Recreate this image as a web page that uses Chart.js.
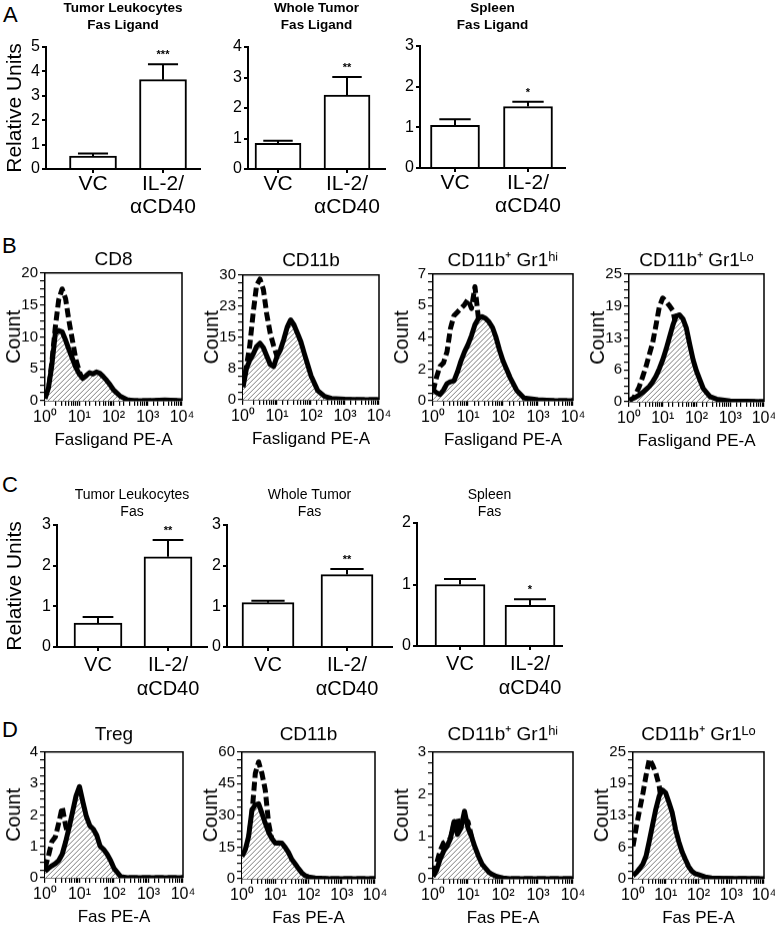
<!DOCTYPE html>
<html>
<head>
<meta charset="utf-8">
<script src="https://cdn.jsdelivr.net/npm/chart.js@4.4.1/dist/chart.umd.min.js"></script>
<style>
html, body { margin: 0; padding: 0; background: #fff; overflow: hidden; }
#fig { position: relative; width: 775px; height: 931px; }
#fig canvas { position: absolute; }
.panel { position: absolute; font: 22px 'Liberation Sans', Arial, sans-serif; line-height: 22px; color: #000; }
</style>
</head>
<body>
<div id="fig">
  <div class="panel" style="left:3px;top:4px">A</div>
  <div class="panel" style="left:2px;top:235px">B</div>
  <div class="panel" style="left:2px;top:474px">C</div>
  <div class="panel" style="left:2px;top:719px">D</div>
</div>
<script>
// ---- data ----
var groups = ['VC', ['IL-2/', 'αCD40']];

// A: Fas ligand, relative units (mean, SEM, significance)
var flTumorLeuk = [0.53, 3.66], flTumorLeukSem = [0.11, 0.63], flTumorLeukSig = ['', '***'];
var flWholeTumor = [0.84, 2.42], flWholeTumorSem = [0.09, 0.60], flWholeTumorSig = ['', '**'];
var flSpleen = [1.05, 1.51], flSpleenSem = [0.15, 0.12], flSpleenSig = ['', '*'];

// C: Fas, relative units
var fasTumorLeuk = [0.59, 2.22], fasTumorLeukSem = [0.15, 0.41], fasTumorLeukSig = ['', '**'];
var fasWholeTumor = [1.09, 1.78], fasWholeTumorSem = [0.05, 0.14], fasWholeTumorSig = ['', '**'];
var fasSpleen = [1.0, 0.66], fasSpleenSem = [0.09, 0.10], fasSpleenSig = ['', '*'];

// flow histograms: fluorescence channel (PE-A) and counts
var bins = [1, 1.26, 1.58, 2, 2.51, 3.16, 3.98, 5.01, 6.31, 7.94, 10, 12.6, 15.8, 20, 25.1, 31.6,
            39.8, 50.1, 63.1, 79.4, 100, 158, 251, 398, 1000, 3162, 10000];

var cd8Solid   = [0.3, 2, 5.5, 10.5, 11, 10.8, 9.5, 8, 6.6, 5.2, 4.2, 3.5, 3.9, 4.4, 4.2, 4.5, 4.3, 3.8, 3.2, 2.5, 1.7, 0.7, 0.15, 0, 0, 0.1, 0];
var cd8Dashed  = [0.5, 1.5, 6, 11.5, 15.8, 17.5, 16, 12.5, 9.5, 6.5, 4.6, 3.2, 2, 1.2, 0.7, 0.4, 0.15, 0.05, 0, 0, 0, 0, 0, 0, 0, 0, 0];
var cd11bSolid = [3, 7.5, 9.5, 11, 12.8, 13.6, 12.5, 10.5, 8.5, 8, 10.4, 12, 14.5, 17.5, 19.2, 18, 16, 14, 11.2, 8.5, 5.8, 2.2, 0.8, 0.3, 0.1, 0, 0];
var cd11bDashed= [3, 8, 13, 21, 27.5, 29, 26.5, 20.5, 16, 13, 10.5, 9, 10, 11.5, 11, 6.5, 2, 0.5, 0, 0, 0, 0, 0, 0, 0, 0, 0];
var gr1hiSolid = [0.6, 0.45, 0.35, 0.6, 0.95, 1.05, 1.1, 1.6, 2.2, 2.7, 3.1, 3.6, 4.2, 4.55, 4.65, 4.55, 4.35, 4.05, 3.5, 2.8, 2.2, 1.3, 0.55, 0.15, 0.05, 0, 0];
var gr1hiDashed= [0.5, 1.3, 1.9, 2.1, 2.7, 4.0, 4.7, 4.9, 5.1, 5.3, 5.6, 5.1, 6.3, 4.5, 2.6, 1.5, 0.5, 0.15, 0, 0, 0, 0, 0, 0, 0, 0, 0];
var gr1loSolid = [0.3, 0.6, 0.9, 1.3, 1.8, 2.4, 3.0, 3.9, 5.0, 6.5, 8.2, 10.3, 12.6, 15, 16.8, 17, 16.2, 14.4, 11.2, 8.2, 6, 2.6, 1.0, 0.5, 0.15, 0.1, 0];
var gr1loDashed= [0.1, 0.3, 1.5, 2.9, 4.8, 6.8, 9.2, 11.5, 15, 18.6, 20.3, 19.6, 18.8, 17.8, 14.6, 11, 7, 3, 0.6, 0.1, 0, 0, 0, 0, 0, 0, 0];

var tregSolid  = [0.2, 0.3, 0.38, 0.45, 0.55, 0.75, 1.15, 1.6, 2.1, 2.6, 2.9, 2.4, 1.95, 1.65, 1.55, 1.35, 1.0, 0.9, 0.75, 0.55, 0.3, 0.03, 0, 0, 0, 0, 0];
var tregDashed = [0.3, 0.7, 1.15, 1.3, 1.75, 2.25, 1.65, 1.25, 0.85, 0.55, 0.25, 0.06, 0, 0, 0, 0, 0, 0, 0, 0, 0, 0, 0, 0, 0, 0, 0];
var fCd11bSolid  = [10.6, 13.8, 20, 32.6, 35, 35.5, 31, 26.3, 22, 19, 16.9, 17, 16.9, 14.8, 12.4, 9.1, 7, 4.8, 2.8, 1.5, 0.9, 0.4, 0.2, 0.1, 0.05, 0, 0];
var fCd11bDashed = [5, 11, 18.5, 31, 49.8, 55.3, 49.8, 42, 26.3, 18.5, 10.7, 4.4, 1.3, 0.3, 0, 0, 0, 0, 0, 0, 0, 0, 0, 0, 0, 0, 0];
var fGr1hiSolid  = [0.05, 0.2, 0.45, 0.65, 0.77, 0.95, 1.35, 1.05, 1.2, 1.6, 1.2, 1.0, 0.75, 0.53, 0.35, 0.25, 0.15, 0.1, 0.06, 0.04, 0.02, 0, 0, 0, 0, 0, 0];
var fGr1hiDashed = [0.1, 0.35, 0.65, 0.85, 0.9, 0.95, 1.3, 1.45, 1.05, 1.3, 1.35, 1.0, 0.6, 0.3, 0.05, 0, 0, 0, 0, 0, 0, 0, 0, 0, 0, 0, 0];
var fGr1loSolid  = [0.6, 1.2, 2.0, 2.9, 4.5, 7.5, 10.7, 13.8, 16.3, 17.5, 16.9, 15, 13, 9.7, 7.3, 5.3, 3.8, 2.4, 1.5, 1.0, 0.8, 0.35, 0.15, 0.1, 0.05, 0.05, 0];
var fGr1loDashed = [6.4, 10.2, 13.5, 16.8, 20.4, 23.6, 22.4, 20.8, 18.3, 13.5, 8, 4.2, 1.0, 0.1, 0, 0, 0, 0, 0, 0, 0, 0, 0, 0, 0, 0, 0];

var decadeLabels = ['10\u2070', '10\u00B9', '10\u00B2', '10\u00B3', '10\u2074'];

// ---- helpers ----
var SANS = "'Liberation Sans', Arial, sans-serif";
var fig = document.getElementById('fig');

function makeCanvas(left, top, w, h) {
  var c = document.createElement('canvas');
  c.width = w; c.height = h;
  c.style.left = left + 'px'; c.style.top = top + 'px';
  c.style.width = w + 'px'; c.style.height = h + 'px';
  fig.appendChild(c);
  return c;
}

function makeHatch() {
  var t = document.createElement('canvas');
  t.width = 5; t.height = 5;
  var g = t.getContext('2d');
  g.fillStyle = '#fff'; g.fillRect(0, 0, 5, 5);
  g.strokeStyle = '#808080'; g.lineWidth = 1;
  g.beginPath();
  g.moveTo(0, 5); g.lineTo(5, 0);
  g.moveTo(-1, 1); g.lineTo(1, -1);
  g.moveTo(4, 6); g.lineTo(6, 4);
  g.stroke();
  return document.createElement('canvas').getContext('2d').createPattern(t, 'repeat');
}
var hatch = makeHatch();

var errorBars = {
  id: 'errorBars',
  afterDatasetsDraw: function(chart, args, opts) {
    if (!opts.sem) return;
    var ctx = chart.ctx, y = chart.scales.y;
    var vals = chart.data.datasets[0].data;
    ctx.save();
    ctx.strokeStyle = '#000'; ctx.lineWidth = 2;
    chart.getDatasetMeta(0).data.forEach(function(bar, i) {
      var yTop = y.getPixelForValue(vals[i].y + opts.sem[i]);
      var half = bar.width * 0.32;
      ctx.beginPath();
      ctx.moveTo(bar.x, bar.y); ctx.lineTo(bar.x, yTop);
      ctx.moveTo(bar.x - half, yTop); ctx.lineTo(bar.x + half, yTop);
      ctx.stroke();
      if (opts.sig[i]) {
        ctx.fillStyle = '#000';
        ctx.font = 'bold 11px ' + SANS;
        ctx.textAlign = 'center'; ctx.textBaseline = 'alphabetic';
        ctx.fillText(opts.sig[i], bar.x, yTop - 6);
      }
    });
    ctx.restore();
  }
};

var frame = {
  id: 'frame',
  afterDraw: function(chart, args, opts) {
    if (!opts.on) return;
    var a = chart.chartArea, ctx = chart.ctx;
    ctx.save();
    ctx.strokeStyle = '#000'; ctx.lineWidth = 1.5;
    ctx.beginPath();
    ctx.moveTo(a.left, a.top); ctx.lineTo(a.right, a.top); ctx.lineTo(a.right, a.bottom);
    ctx.stroke();
    ctx.restore();
  }
};
Chart.register(errorBars, frame);

function barChart(o) {
  var wy = o.yTitle ? o.left : 32;
  var left = o.left - wy;
  var lh = o.titleSize * o.titleLH;
  var top = o.titleTop;
  var gap = o.top - top - 2 * lh;
  var hx = 62;
  var w = o.right - left + 6, h = o.bottom - top + hx;
  var unit = o.c1 - o.c0;
  var cv = makeCanvas(left, top, w, h);
  new Chart(cv, {
    type: 'bar',
    data: {
      datasets: [{
        data: o.vals.map(function(v, i) { return { x: i, y: v }; }),
        backgroundColor: '#fff', borderColor: '#000', borderWidth: 2,
        barThickness: o.barW
      }]
    },
    options: {
      responsive: false, animation: false, events: [],
      layout: { padding: { left: 0, right: 6, top: 0, bottom: 0 } },
      plugins: {
        legend: { display: false }, tooltip: { enabled: false },
        title: {
          display: true, text: o.title, fullSize: false, color: '#000',
          font: { family: SANS, size: o.titleSize, weight: o.titleWeight, lineHeight: o.titleLH },
          padding: { top: 0, bottom: gap }
        },
        errorBars: { sem: o.sem, sig: o.sig }
      },
      scales: {
        x: {
          type: 'linear', offset: false,
          min: -(o.c0 - o.left) / unit, max: 1 + (o.right - o.c1) / unit,
          afterBuildTicks: function(s) { s.ticks = groups.map(function(g, i) { return { value: i }; }); },
          afterFit: function(s) { s.height = hx; },
          ticks: {
            autoSkip: false, maxRotation: 0, padding: o.catPad, color: '#000',
            font: { family: SANS, size: o.catSize, lineHeight: o.catLH },
            callback: function(v) { return groups[v]; }
          },
          grid: { offset: false, drawOnChartArea: false, tickLength: 4, color: '#000', lineWidth: 2 },
          border: { color: '#000', width: 2 }
        },
        y: {
          min: 0, max: o.yMax,
          afterFit: function(s) { s.width = wy; },
          ticks: { stepSize: 1, padding: 2, color: '#000', font: { family: SANS, size: 16 } },
          grid: { drawOnChartArea: false, tickLength: 4, color: '#000', lineWidth: 2 },
          border: { color: '#000', width: 2 },
          title: {
            display: !!o.yTitle, text: 'Relative Units', color: '#000',
            font: { family: SANS, size: 21 }, padding: { top: 3, bottom: 0 }
          }
        }
      }
    }
  });
}

function histChart(o) {
  var wy = 45, pr = 16, hx = 50, tf = 19, tlh = 1.2;
  var left = o.left - wy;
  var top = o.top - tf * tlh - o.gap;
  var w = o.right - left + pr, h = o.bottom - top + hx;
  var n = Math.round(o.yMax / o.step);
  var cv = makeCanvas(left, top, w, h);
  function pts(ys) { return bins.map(function(x, i) { return { x: x, y: ys[i] }; }); }
  new Chart(cv, {
    type: 'line',
    data: {
      datasets: [
        { data: pts(o.solid), borderColor: '#000', borderWidth: 5, fill: 'origin', backgroundColor: hatch },
        { data: pts(o.dashed), borderColor: '#000', borderWidth: 5, borderDash: [9, 4], fill: false }
      ]
    },
    options: {
      responsive: false, animation: false, events: [],
      layout: { padding: { left: 0, right: pr, top: 0, bottom: 0 } },
      elements: { point: { radius: 0 }, line: { tension: 0, borderJoinStyle: 'round' } },
      plugins: {
        legend: { display: false }, tooltip: { enabled: false },
        title: {
          display: true, text: o.title, fullSize: false, color: '#000',
          font: { family: SANS, size: tf, weight: 'normal', lineHeight: tlh },
          padding: { top: 0, bottom: o.gap }
        },
        frame: { on: true }
      },
      scales: {
        x: {
          type: 'logarithmic', min: 1, max: 10000,
          afterFit: function(s) { s.height = hx; },
          ticks: {
            autoSkip: false, maxRotation: 0, padding: 2, color: '#000',
            font: { family: SANS, size: 16 },
            callback: function(v) {
              var e = Math.round(Math.log10(v));
              return Math.abs(Math.pow(10, e) - v) < 1e-6 ? decadeLabels[e] : '';
            }
          },
          grid: { drawOnChartArea: false, tickLength: 5, color: '#000', lineWidth: 1.2 },
          border: { color: '#000', width: 1.5 },
          title: {
            display: true, text: o.xTitle, color: '#000',
            font: { family: SANS, size: 17 }, padding: { top: 0, bottom: 0 }
          }
        },
        y: {
          min: 0, max: o.yMax,
          afterBuildTicks: function(s) {
            var t = [];
            for (var i = 0; i <= n * 4; i++) t.push({ value: i * o.step / 4 });
            s.ticks = t;
          },
          afterFit: function(s) { s.width = wy; },
          ticks: {
            autoSkip: false, padding: 2, color: '#000', font: { family: SANS, size: 15 },
            callback: function(v, i) { return i % 4 === 0 ? Math.round(v) : ''; }
          },
          grid: { drawOnChartArea: false, tickLength: 5, color: '#000', lineWidth: 1.2 },
          border: { color: '#000', width: 1.5 },
          title: {
            display: true, text: 'Count', color: '#000',
            font: { family: SANS, size: 20 }, padding: { top: 2, bottom: 0 }
          }
        }
      }
    }
  });
}

function withRow(row, o) { for (var k in row) if (!(k in o)) o[k] = row[k]; return o; }

// ---- row A ----
var rowA = { titleTop: 0, top: 47, bottom: 169, titleSize: 13.5, titleWeight: 'bold',
             titleLH: 1.25, catSize: 21, catLH: 1.08, catPad: 0 };
barChart(withRow(rowA, { title: ['Tumor Leukocytes', 'Fas Ligand'], vals: flTumorLeuk, sem: flTumorLeukSem,
  sig: flTumorLeukSig, yMax: 5, yTitle: true, left: 46, right: 200, c0: 93, c1: 163, barW: 47 }));
barChart(withRow(rowA, { title: ['Whole Tumor', 'Fas Ligand'], vals: flWholeTumor, sem: flWholeTumorSem,
  sig: flWholeTumorSig, yMax: 4, left: 248, right: 385, c0: 278, c1: 347, barW: 46 }));
barChart(withRow(rowA, { title: ['Spleen', 'Fas Ligand'], vals: flSpleen, sem: flSpleenSem,
  sig: flSpleenSig, yMax: 3, left: 420, right: 565, c0: 455, c1: 528, barW: 49, top: 46, bottom: 168 }));

// ---- row B ----
histChart({ title: 'CD8', solid: cd8Solid, dashed: cd8Dashed, yMax: 20, step: 5,
  left: 45, right: 182, top: 273, bottom: 401, gap: 2, xTitle: 'Fasligand PE-A' });
histChart({ title: 'CD11b', solid: cd11bSolid, dashed: cd11bDashed, yMax: 30, step: 7.5,
  left: 243, right: 379, top: 275, bottom: 400, gap: 3, xTitle: 'Fasligand PE-A' });
histChart({ title: 'CD11b\u207A Gr1\u02B0\u2071', solid: gr1hiSolid, dashed: gr1hiDashed, yMax: 7, step: 1.75,
  left: 433, right: 573, top: 274, bottom: 401, gap: 2, xTitle: 'Fasligand PE-A' });
histChart({ title: 'CD11b\u207A Gr1\u1D38\u1D52', solid: gr1loSolid, dashed: gr1loDashed, yMax: 25, step: 6.25,
  left: 629, right: 764, top: 274, bottom: 402, gap: 2, xTitle: 'Fasligand PE-A' });

// ---- row C ----
var rowC = { titleTop: 487, top: 525, bottom: 647, titleSize: 14, titleWeight: 'normal',
             titleLH: 1.2, catSize: 20, catLH: 1.2, catPad: 2 };
barChart(withRow(rowC, { title: ['Tumor Leukocytes', 'Fas'], vals: fasTumorLeuk, sem: fasTumorLeukSem,
  sig: fasTumorLeukSig, yMax: 3, yTitle: true, left: 57, right: 207, c0: 98, c1: 168, barW: 48 }));
barChart(withRow(rowC, { title: ['Whole Tumor', 'Fas'], vals: fasWholeTumor, sem: fasWholeTumorSem,
  sig: fasWholeTumorSig, yMax: 3, left: 227, right: 392, c0: 268, c1: 347, barW: 52 }));
barChart(withRow(rowC, { title: ['Spleen', 'Fas'], vals: fasSpleen, sem: fasSpleenSem,
  sig: fasSpleenSig, yMax: 2, left: 417, right: 562, c0: 460, c1: 530, barW: 50, top: 523, bottom: 646 }));

// ---- row D ----
histChart({ title: 'Treg', solid: tregSolid, dashed: tregDashed, yMax: 4, step: 1,
  left: 45, right: 183, top: 752, bottom: 878, gap: 6, xTitle: 'Fas PE-A' });
histChart({ title: 'CD11b', solid: fCd11bSolid, dashed: fCd11bDashed, yMax: 60, step: 15,
  left: 242, right: 375, top: 752, bottom: 879, gap: 6, xTitle: 'Fas PE-A' });
histChart({ title: 'CD11b\u207A Gr1\u02B0\u2071', solid: fGr1hiSolid, dashed: fGr1hiDashed, yMax: 3, step: 1,
  left: 433, right: 573, top: 752, bottom: 879, gap: 6, xTitle: 'Fas PE-A' });
histChart({ title: 'CD11b\u207A Gr1\u1D38\u1D52', solid: fGr1loSolid, dashed: fGr1loDashed, yMax: 25, step: 6.25,
  left: 633, right: 764, top: 752, bottom: 879, gap: 6, xTitle: 'Fas PE-A' });
</script>
</body>
</html>
